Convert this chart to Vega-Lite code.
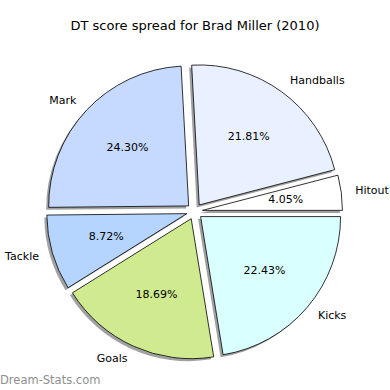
{
  "$schema": "https://vega.github.io/schema/vega-lite/v6.json",
  "background": "white",
  "padding": {"left": 0, "right": 0, "top": 20, "bottom": 0},
  "config": {"view": {"stroke": null}, "concat": {"spacing": 0}},
  "title": {"text": "DT score spread for Brad Miller (2010)", "font": "DejaVu Sans", "fontSize": 13, "fontWeight": "normal", "color": "#000000", "anchor": "middle", "frame": "group"},
  "vconcat": [
    {
      "width": 390,
      "height": 330,
      "title": {"text": "Dream-Stats.com", "orient": "bottom", "anchor": "start", "frame": "group", "font": "DejaVu Sans", "fontSize": 11.5, "fontWeight": "normal", "color": "#8f8f8f", "offset": 8},
      "data": {"values": [
        {"cat": "Hitout", "pct": 4.05, "o": 1},
        {"cat": "Handballs", "pct": 21.81, "o": 2},
        {"cat": "Mark", "pct": 24.30, "o": 3},
        {"cat": "Tackle", "pct": 8.72, "o": 4},
        {"cat": "Goals", "pct": 18.69, "o": 5},
        {"cat": "Kicks", "pct": 22.43, "o": 6}
      ]},
      "transform": [
        {"window": [{"op": "sum", "field": "pct", "as": "cum"}], "sort": [{"field": "o"}], "frame": [null, 0]},
        {"calculate": "(datum.cum - datum.pct / 2) / 100 * 2 * PI", "as": "mid"},
        {"calculate": "cos(datum.mid)", "as": "ux"},
        {"calculate": "sin(datum.mid)", "as": "uy"},
        {"calculate": "format(datum.pct, '.2f') + '%'", "as": "lab"}
      ],
      "encoding": {
        "x": {"field": "ux", "type": "quantitative", "scale": {"domain": [-1, 1], "range": [186.5, 202.5]}, "axis": null},
        "y": {"field": "uy", "type": "quantitative", "scale": {"domain": [-1, 1], "range": [182.4, 166.4]}, "axis": null},
        "theta": {"field": "pct", "type": "quantitative", "stack": true, "scale": {"domain": [0, 100], "range": [1.5707963, -4.712389]}},
        "order": {"field": "o", "type": "quantitative"}
      },
      "layer": [
        {
          "mark": {"type": "arc", "outerRadius": 140, "fill": "#444444", "fillOpacity": 0.5, "xOffset": -2.5, "yOffset": 2.5}
        },
        {
          "mark": {"type": "arc", "outerRadius": 140, "stroke": "#000000", "strokeWidth": 0.8},
          "encoding": {
            "color": {"field": "cat", "type": "nominal", "legend": null,
              "scale": {"domain": ["Hitout", "Handballs", "Mark", "Tackle", "Goals", "Kicks"],
                        "range": ["#ffffff", "#e9f0ff", "#c6d9ff", "#b5d5ff", "#d0eb8f", "#d9ffff"]}}
          }
        },
        {
          "mark": {"type": "text", "radius": 154, "font": "DejaVu Sans", "fontSize": 11, "color": "#000000", "baseline": "middle", "align": {"expr": "datum.ux < 0 ? 'right' : 'left'"}},
          "encoding": {"text": {"field": "cat"}}
        },
        {
          "mark": {"type": "text", "radius": 84, "font": "DejaVu Sans", "fontSize": 11, "color": "#000000", "baseline": "middle", "align": "center"},
          "encoding": {"text": {"field": "lab"}}
        }
      ]
    }
  ]
}
